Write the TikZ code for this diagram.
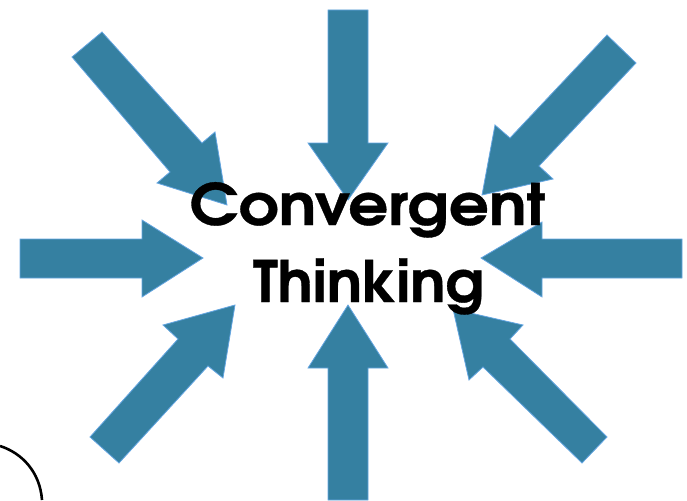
\documentclass[tikz,border=0pt]{standalone}
\usepackage{fontspec}
\newfontfamily\headfont{TeX Gyre Adventor}[FakeBold=0.6]
\definecolor{arrowfill}{RGB}{53,128,161}
\definecolor{arrowedge}{RGB}{100,165,225}
\begin{document}
\begin{tikzpicture}[x=1pt,y=-1pt,
  blockarrow/.style={fill=arrowfill,draw=arrowedge,line width=0.8pt,line join=miter},
  headline/.style={anchor=base,inner sep=0pt,font=\headfont\bfseries\fontsize{57}{70}\selectfont}]
\useasboundingbox (0,0) rectangle (687,500);
% the eight block arrows pointing inwards
\draw[blockarrow] (328,10) -- (368,10) -- (368,143) -- (388,143) -- (348,200) -- (308,143) -- (328,143) -- cycle;
\draw[blockarrow] (348,305) -- (388,368) -- (368,368) -- (368,500) -- (328,500) -- (328,368) -- (308,368) -- cycle;
\draw[blockarrow] (20,239) -- (142,239) -- (142,220) -- (203,258) -- (142,297) -- (142,278) -- (20,278) -- cycle;
\draw[blockarrow] (682,239) -- (542,239) -- (542,222) -- (481,258) -- (542,297) -- (542,278) -- (682,278) -- cycle;
\draw[blockarrow] (72,57) -- (102,32) -- (202,143) -- (215,132) -- (227,205) -- (157,183) -- (170,172) -- cycle;
\draw[blockarrow] (607,35) -- (636,63) -- (539,166) -- (553,179) -- (482,195) -- (495,125) -- (510,138) -- cycle;
\draw[blockarrow] (90,437) -- (119,463) -- (208,366) -- (223,378) -- (235,305) -- (163,325) -- (178,339) -- cycle;
\draw[blockarrow] (607,437) -- (582,463) -- (483,367) -- (469,380) -- (453,309) -- (523,325) -- (510,339) -- cycle;
% curve in the lower left corner
\draw[line width=2.6pt] (0,446) .. controls (22,453) and (40,472) .. (42,500);
% title
\node[headline] (line1) at (367.5,225) {\addfontfeature{FakeStretch=1.1}Convergent};
\node[headline] (line2) at (368.5,302) {\addfontfeature{FakeStretch=1.03}Thinking};
\end{tikzpicture}
\end{document}
